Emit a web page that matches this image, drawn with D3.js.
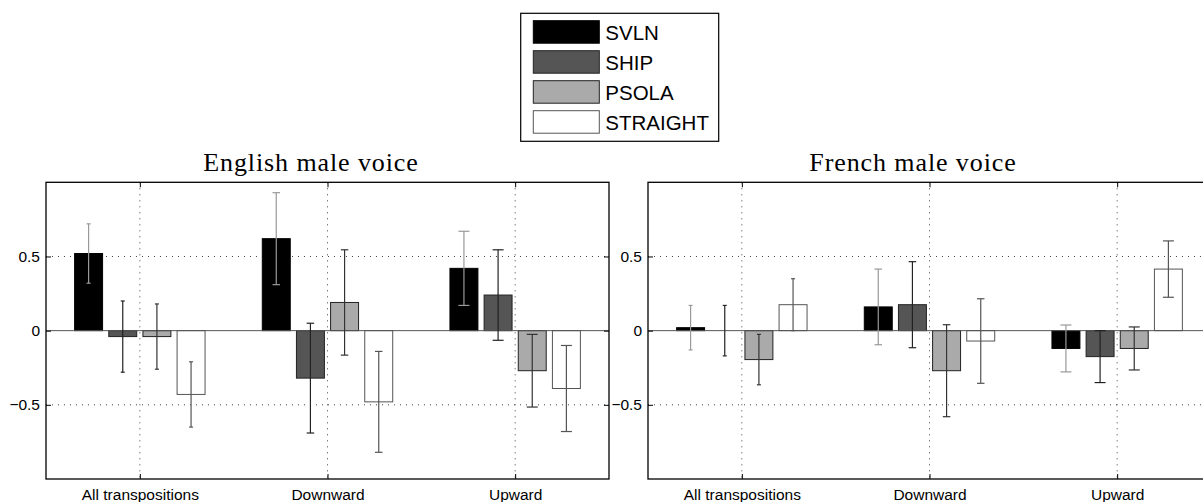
<!DOCTYPE html>
<html>
<head>
<meta charset="utf-8">
<script src="https://cdn.jsdelivr.net/npm/d3@7/dist/d3.min.js"></script>
<style>
    body { margin: 0; background: #ffffff; }
    svg { display: block; }
</style>
</head>
<body>
<div id="chart"></div>
<script>
//categories shown on the x axis and the compared methods
var categories = ['All transpositions', 'Downward', 'Upward'];
var methods = ['SVLN', 'SHIP', 'PSOLA', 'STRAIGHT'];
var yTicks = [-0.5, 0, 0.5];

//english male voice: one row per category, one column per method
var englishMeans = [
    [0.52, -0.04, -0.04, -0.43],
    [0.62, -0.32, 0.19, -0.48],
    [0.42, 0.24, -0.27, -0.39]
];
var englishErrors = [
    [0.20, 0.24, 0.22, 0.22],
    [0.31, 0.37, 0.355, 0.34],
    [0.25, 0.305, 0.245, 0.29]
];

//french male voice
var frenchMeans = [
    [0.02, 0.0, -0.195, 0.175],
    [0.16, 0.175, -0.27, -0.07],
    [-0.12, -0.175, -0.12, 0.415]
];
var frenchErrors = [
    [0.15, 0.17, 0.17, 0.175],
    [0.255, 0.29, 0.31, 0.285],
    [0.158, 0.175, 0.145, 0.19]
];

(function () {
    //declare needed variables
    var width = 1203,
        height = 502,
        sans = '"Liberation Sans", Arial, Helvetica, sans-serif',
        serif = '"Liberation Serif", "Times New Roman", serif',
        barFills = ['#000000', '#555555', '#aaaaaa', '#ffffff'],
        barStrokes = ['#000000', '#222222', '#222222', '#555555'],
        errColors = ['#999999', '#222222', '#333333', '#555555'],
        capWidths = [4, 7.5, 11],
        barStep = 0.182,
        barWidth = 0.149,
        plotWidth = 563,
        plotTop = 182.3,
        plotBottom = 479;

    var svg = d3.select('#chart').append('svg')
        .attr('width', width)
        .attr('height', height);

    //draws one panel of grouped bars
    function drawPanel(left, title, means, errors) {
        var x = d3.scaleLinear().domain([0.5, 3.5]).range([left, left + plotWidth]),
            y = d3.scaleLinear().domain([-1, 1]).range([plotBottom, plotTop]),
            g = svg.append('g');

        //dotted grid
        g.selectAll('.vgrid').data([1, 2, 3]).enter().append('line')
            .attr('x1', function (d) { return x(d); }).attr('x2', function (d) { return x(d); })
            .attr('y1', plotTop).attr('y2', plotBottom)
            .attr('stroke', '#444').attr('stroke-width', 1).attr('stroke-dasharray', '1,5');
        g.selectAll('.hgrid').data([-0.5, 0.5]).enter().append('line')
            .attr('x1', left).attr('x2', left + plotWidth)
            .attr('y1', function (d) { return y(d); }).attr('y2', function (d) { return y(d); })
            .attr('stroke', '#444').attr('stroke-width', 1).attr('stroke-dasharray', '1,5');

        //flatten values into bar records
        var bars = [];
        means.forEach(function (row, i) {
            row.forEach(function (v, j) {
                bars.push({ cat: i, ser: j, value: v, err: errors[i][j] });
            });
        });

        var cx = function (d) { return d.cat + 1 + (d.ser - 1.5) * barStep; };

        //bars
        g.selectAll('.bar').data(bars).enter().append('rect')
            .attr('x', function (d) { return x(cx(d) - barWidth / 2); })
            .attr('width', function (d) { return x(cx(d) + barWidth / 2) - x(cx(d) - barWidth / 2); })
            .attr('y', function (d) { return y(Math.max(0, d.value)); })
            .attr('height', function (d) { return Math.abs(y(d.value) - y(0)); })
            .attr('fill', function (d) { return barFills[d.ser]; })
            .attr('stroke', function (d) { return barStrokes[d.ser]; })
            .attr('stroke-width', 1);

        //baseline
        g.append('line')
            .attr('x1', left).attr('x2', left + plotWidth)
            .attr('y1', y(0)).attr('y2', y(0))
            .attr('stroke', '#555').attr('stroke-width', 1);

        //error bars
        var eb = g.selectAll('.err').data(bars).enter().append('g')
            .attr('stroke', function (d) { return errColors[d.ser]; })
            .attr('stroke-width', 1.2);
        eb.append('line')
            .attr('x1', function (d) { return x(cx(d)); }).attr('x2', function (d) { return x(cx(d)); })
            .attr('y1', function (d) { return y(d.value + d.err); })
            .attr('y2', function (d) { return y(d.value - d.err); });
        [1, -1].forEach(function (s) {
            eb.append('line')
                .attr('x1', function (d) { return x(cx(d)) - capWidths[d.cat] / 2; })
                .attr('x2', function (d) { return x(cx(d)) + capWidths[d.cat] / 2; })
                .attr('y1', function (d) { return y(d.value + s * d.err); })
                .attr('y2', function (d) { return y(d.value + s * d.err); });
        });

        //axes with inward ticks
        var yAxis = d3.axisLeft(y).tickValues(yTicks).tickSize(-5).tickPadding(6).tickFormat(d3.format(''));
        var xAxis = d3.axisBottom(x).tickValues([1, 2, 3]).tickSize(-5).tickPadding(10)
            .tickFormat(function (d) { return categories[d - 1]; });

        var ya = g.append('g').attr('transform', 'translate(' + left + ',0)').call(yAxis);
        var xa = g.append('g').attr('transform', 'translate(0,' + plotBottom + ')').call(xAxis);
        g.append('g').attr('transform', 'translate(0,' + plotTop + ')')
            .call(d3.axisTop(x).tickValues([1, 2, 3]).tickSize(-5).tickFormat(''));
        g.append('g').attr('transform', 'translate(' + (left + plotWidth) + ',0)')
            .call(d3.axisRight(y).tickValues(yTicks).tickSize(-5).tickFormat(''));

        //style axes
        g.selectAll('.domain').remove();
        g.selectAll('.tick line').attr('stroke', '#000');
        [ya, xa].forEach(function (a) {
            a.selectAll('text').attr('fill', '#000')
                .style('font-family', sans).style('font-size', '15.5px');
        });

        //frame
        g.append('rect')
            .attr('x', left).attr('y', plotTop)
            .attr('width', plotWidth).attr('height', plotBottom - plotTop)
            .attr('fill', 'none').attr('stroke', '#000').attr('stroke-width', 1.3);

        //title
        g.append('text')
            .attr('x', left + plotWidth / 2 - 16.5)
            .attr('y', 170.5)
            .attr('text-anchor', 'middle')
            .style('font-family', serif).style('font-size', '26px').style('letter-spacing', '0.9px')
            .text(title);
    }

    drawPanel(46, 'English male voice', englishMeans, englishErrors);
    drawPanel(648, 'French male voice', frenchMeans, frenchErrors);

    //legend
    var legend = svg.append('g');
    legend.append('rect')
        .attr('x', 520.7).attr('y', 13.3).attr('width', 198).attr('height', 128)
        .attr('fill', '#fff').attr('stroke', '#000').attr('stroke-width', 1.2);
    var items = legend.selectAll('.item').data(methods).enter().append('g')
        .attr('transform', function (d, i) { return 'translate(533.3,' + (20.7 + i * 30) + ')'; });
    items.append('rect')
        .attr('width', 66).attr('height', 22.5)
        .attr('fill', function (d, i) { return barFills[i]; })
        .attr('stroke', function (d, i) { return barStrokes[i]; })
        .attr('stroke-width', 1);
    items.append('text')
        .attr('x', 72).attr('y', 19.8)
        .style('font-family', sans).style('font-size', '20.5px')
        .text(function (d) { return d; });
})();
</script>
</body>
</html>
